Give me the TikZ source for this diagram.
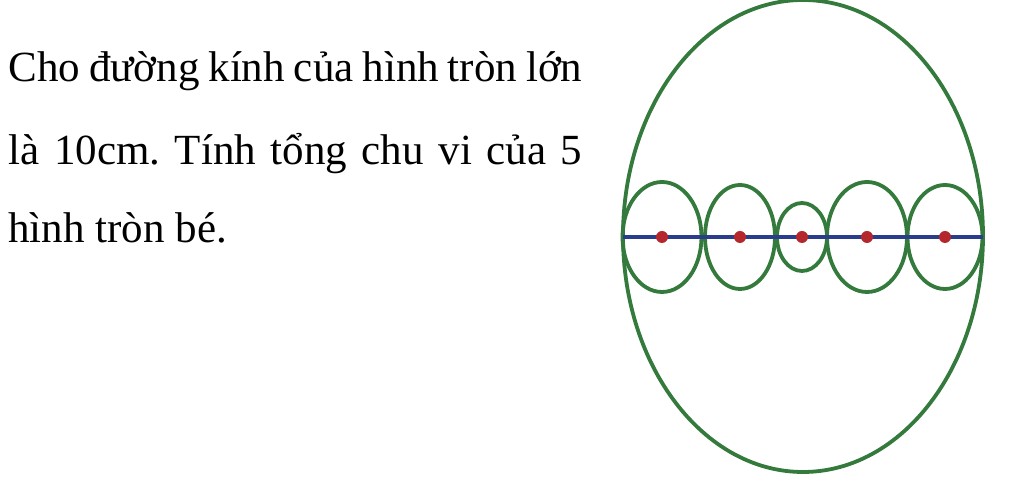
\documentclass[tikz,border=0pt]{standalone}
\usepackage{fontspec}
\setmainfont{Liberation Serif}
\frenchspacing

\begin{document}
\begin{tikzpicture}[
x=0.5pt, y=0.5pt,
rim/.style={draw=vongxanh, line width=1.9pt},
duongkinh/.style={draw=xanhdam, line width=2.4pt},
tam/.style={fill=dotam},
dong/.style={anchor=base west, inner sep=0pt, font=\fontsize{21.5}{26}\selectfont}
]
\definecolor{vongxanh}{RGB}{52,122,60}
\definecolor{xanhdam}{RGB}{42,60,140}
\definecolor{dotam}{RGB}{180,40,45}

\def\tw{287pt}

\useasboundingbox (0,0) rectangle (1024,486);

%%% de bai
\node[dong] (l1) at (8,404) {\makebox[\tw][s]{Cho đường kính của hình tròn lớn}};
\node[dong] (l2) at (8,321) {\makebox[\tw][s]{là 10cm. Tính tổng chu vi của 5}};
\node[dong] (l3) at (8,243) {hình tròn bé.};

%%% hinh tron lon
\path (803,250) coordinate(O);
\draw[rim] (O) ellipse [x radius=180, y radius=236];

%%% 5 hinh tron be
\foreach \cx/\rx/\ry [count=\i] in {
	662/39.5/55,
	740/35/52,
	802/25/34,
	867/40/55,
	945/37.5/52
	}{
	\path (\cx,249) coordinate(c\i);
	\draw[rim] (c\i) ellipse [x radius=\rx, y radius=\ry];
}

\path (623,249) coordinate(A) (983,249) coordinate(B);
\draw[duongkinh] (A) -- (B);

\foreach \i in {1,...,5}{
	\fill[tam] (c\i) circle [radius=6];
}

\end{tikzpicture}
\end{document}
